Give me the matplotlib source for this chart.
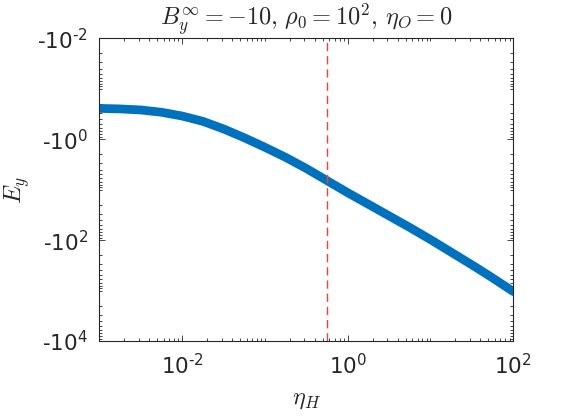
import matplotlib

matplotlib.use("Agg")

import matplotlib.pyplot as plt
import numpy as np
from matplotlib.ticker import FixedLocator, LogLocator, NullFormatter

# values
eta_H = [0.001, 0.00178, 0.00316, 0.00562, 0.01, 0.0178, 0.0316, 0.0562,
         0.1, 0.178, 0.316, 0.562, 1.0, 1.78, 3.16, 5.62,
         10.0, 17.8, 31.6, 56.2, 100.0]
E_y = [-0.245, -0.251, -0.263, -0.292, -0.347, -0.442, -0.624, -0.933,
       -1.445, -2.29, -3.80, -6.61, -11.5, -19.5, -33.1, -56.2,
       -97.7, -174.0, -309.0, -562.0, -1047.0]
eta_marker = 0.56

x_ticks = [1e-2, 1e0, 1e2]
x_ticklabels = [r"10$^{\text{-2}}$", r"10$^{0}$", r"10$^{2}$"]
y_ticks = [1e-2, 1e0, 1e2, 1e4]
y_ticklabels = [r"-10$^{\text{-2}}$", r"-10$^{0}$", r"-10$^{2}$", r"-10$^{4}$"]

title = r"$B_y^\infty = -10,\, \rho_0 = 10^2,\, \eta_O = 0$"

fg = "#262626"

fig = plt.figure(figsize=(5.68, 4.16), dpi=100)
ax = fig.add_axes([0.1748, 0.1803, 0.7289, 0.7276])

ax.plot(eta_H, -np.asarray(E_y), color="#0072BD", linewidth=6.3,
        solid_capstyle="round", solid_joinstyle="round")
ax.axvline(eta_marker, color="#ff3b3b", linewidth=1.0, dashes=(6, 3.5))

ax.set_xscale("log")
ax.set_yscale("log")
ax.set_xlim(1e-3, 1e2)
ax.set_ylim(1e-2, 1e4)
ax.invert_yaxis()

ax.xaxis.set_major_locator(FixedLocator(x_ticks))
ax.set_xticklabels(x_ticklabels)
ax.yaxis.set_major_locator(FixedLocator(y_ticks))
ax.set_yticklabels(y_ticklabels)
for axis in (ax.xaxis, ax.yaxis):
    axis.set_minor_locator(LogLocator(base=10, subs=np.arange(1, 10), numticks=100))
    axis.set_minor_formatter(NullFormatter())

ax.tick_params(which="both", direction="in", top=True, right=True,
               color=fg, width=0.6, labelcolor=fg)
ax.tick_params(which="major", length=4, labelsize=15.5, pad=8)
ax.tick_params(axis="x", which="major", pad=9)
ax.tick_params(which="minor", length=2.5)
for s in ax.spines.values():
    s.set_color(fg)
    s.set_linewidth(0.8)

ax.set_title(title, fontsize=17.5, color=fg, math_fontfamily="cm", pad=4)
ax.set_xlabel(r"$\eta_H$", fontsize=17.5, color=fg, math_fontfamily="cm", labelpad=6)
ax.set_ylabel(r"$E_y$", fontsize=17.5, color=fg, math_fontfamily="cm", labelpad=4)

fig.savefig("out.png", dpi=100)
